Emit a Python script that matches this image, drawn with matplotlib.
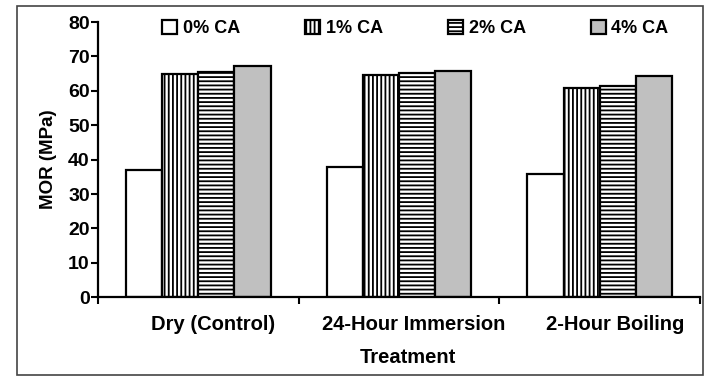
import numpy as np
import matplotlib
matplotlib.use("Agg")
import matplotlib.pyplot as plt
import matplotlib.transforms as mtransforms
from matplotlib.patches import Rectangle

plt.rcParams['font.family'] = ['Liberation Sans', 'DejaVu Sans']
plt.rcParams['font.weight'] = 'bold'
plt.rcParams['axes.labelweight'] = 'bold'
plt.rcParams['hatch.linewidth'] = 1.3

treatments = ['Dry (Control)', '24-Hour Immersion', '2-Hour Boiling']
series = ['0% CA', '1% CA', '2% CA', '4% CA']
mor_0 = [37.0, 37.9, 35.7]
mor_1 = [64.8, 64.5, 60.8]
mor_2 = [65.5, 65.3, 61.3]
mor_4 = [67.2, 65.7, 64.2]
yticks = [0, 10, 20, 30, 40, 50, 60, 70, 80]

values = [mor_0, mor_1, mor_2, mor_4]
fills = ['white', 'white', 'white', '#c0c0c0']
hatches = [None, '||||', '----', None]

fig = plt.figure(figsize=(7.1, 3.81), dpi=100)
ax = fig.add_axes([0.138, 0.220, 0.848, 0.722])

x = np.arange(len(treatments))
w = 0.18
for i, (vals, fc, h) in enumerate(zip(values, fills, hatches)):
    ax.bar(x + (i - 1.5) * w, vals, w, color=fc, edgecolor='black',
           linewidth=1.6, hatch=h, label=series[i])

ax.set_xlim(-0.5, len(treatments) - 0.5)
ax.set_ylim(0, 80)
ax.set_yticks(yticks)
ax.set_xticks(np.arange(len(treatments) + 1) - 0.5)
ax.set_xticklabels([])
ax.set_xticks(x, minor=True)
ax.set_xticklabels(treatments, minor=True)
ax.tick_params(axis='x', which='minor', length=0, pad=13, labelsize=14.5)
ax.tick_params(axis='x', which='major', length=5, width=1.5, direction='out')
ax.tick_params(axis='y', length=5, width=1.5, pad=1, labelsize=14)

# category labels sit a bit right of the group centres
shift = mtransforms.ScaledTranslation(15 / 100, 0, fig.dpi_scale_trans)
for lbl in ax.get_xticklabels(minor=True):
    lbl.set_transform(lbl.get_transform() + shift)

for s in ['top', 'right']:
    ax.spines[s].set_visible(False)
for s in ['left', 'bottom']:
    ax.spines[s].set_linewidth(1.6)

ax.set_ylabel('MOR (MPa)', fontsize=13.5, labelpad=8)
ax.set_xlabel('Treatment', fontsize=14.5)
ax.xaxis.set_label_coords(0.515, -0.185)

ax.legend(loc='upper center', bbox_to_anchor=(0.527, 1.068), ncol=4,
          frameon=False, fontsize=13, handlelength=0.85, handleheight=0.85,
          handletextpad=0.3, columnspacing=3.6)

fig.patches.append(Rectangle((17 / 710, 1 - 375 / 381), 686 / 710, 369 / 381,
                             transform=fig.transFigure, fill=False,
                             edgecolor='#444444', linewidth=1.2))

fig.savefig('out.png', dpi=100)
